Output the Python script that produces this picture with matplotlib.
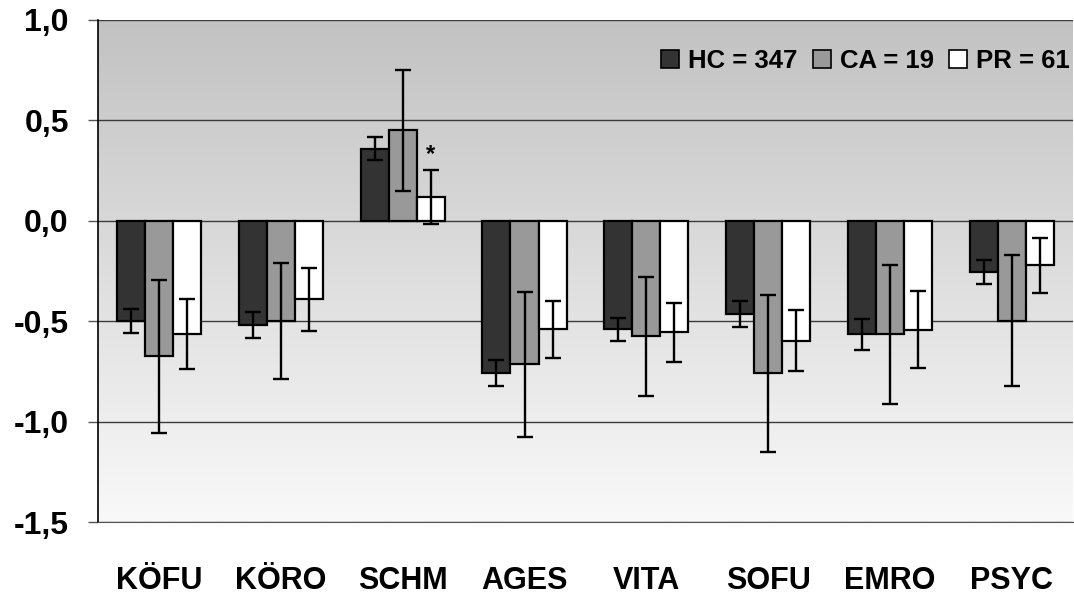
import numpy as np
import matplotlib
matplotlib.use('Agg')
import matplotlib.pyplot as plt
from matplotlib.patches import Patch

plt.rcParams['font.family'] = ['Liberation Sans', 'DejaVu Sans']
plt.rcParams['font.weight'] = 'bold'

cats = ['KÖFU', 'KÖRO', 'SCHM', 'AGES', 'VITA', 'SOFU', 'EMRO', 'PSYC']
hc = [-0.50, -0.52, 0.36, -0.76, -0.54, -0.465, -0.565, -0.255]
hc_err = [0.06, 0.065, 0.055, 0.065, 0.058, 0.065, 0.076, 0.06]
ca = [-0.675, -0.50, 0.45, -0.715, -0.575, -0.76, -0.565, -0.497]
ca_err = [0.38, 0.29, 0.30, 0.36, 0.295, 0.39, 0.345, 0.325]
pr = [-0.565, -0.39, 0.118, -0.54, -0.555, -0.597, -0.542, -0.222]
pr_err = [0.175, 0.157, 0.135, 0.143, 0.147, 0.153, 0.19, 0.138]
labels = ['HC = 347', 'CA = 19', 'PR = 61']
cols = ['#333333', '#999999', '#ffffff']
yticks = [-1.5, -1.0, -0.5, 0.0, 0.5, 1.0]
ytick_lbl = ['-1,5', '-1,0', '-0,5', '0,0', '0,5', '1,0']

fig = plt.figure(figsize=(10.74, 5.97), dpi=100)
ax = fig.add_axes([0.0912, 0.1256, 0.9078, 0.8409])

# grey gradient background, darker at top
grad = np.linspace(0, 1, 256).reshape(-1, 1)
ax.imshow(grad, cmap=matplotlib.colors.LinearSegmentedColormap.from_list('g', ['#c2c2c2', '#f9f9f9']),
          extent=[-0.5, 7.5, -1.5, 1.0], origin='upper', aspect='auto', zorder=0)

x = np.arange(len(cats))
w = 0.23
for k, (vals, errs) in enumerate([(hc, hc_err), (ca, ca_err), (pr, pr_err)]):
    xs = x + (k - 1) * w
    ax.bar(xs, vals, width=w, color=cols[k], edgecolor='black', linewidth=1.6, zorder=3)
    ax.errorbar(xs, vals, yerr=errs, fmt='none', ecolor='black', elinewidth=1.7,
                capsize=6, capthick=1.7, zorder=4)

ax.text(x[2] + w, pr[2] + pr_err[2] + 0.02, '*', ha='center', va='bottom', fontsize=17, zorder=5)

ax.set_xlim(-0.5, 7.5)
ax.set_ylim(-1.5, 1.0)
ax.set_yticks(yticks)
ax.set_yticklabels(ytick_lbl, fontsize=23, fontweight='bold')
ax.set_xticks(x)
ax.set_xticklabels(cats, fontsize=22, fontweight='bold')
ax.tick_params(axis='x', length=0, pad=32)
ax.tick_params(axis='y', length=7, width=1, color='#555555', pad=14)
ax.yaxis.grid(True, color='#3a3a3a', linewidth=1.0, zorder=1)
ax.set_axisbelow(True)
for s in ['top', 'right']:
    ax.spines[s].set_visible(False)
ax.spines['bottom'].set_color('#555555')
ax.spines['left'].set_linewidth(1.2)

handles = [Patch(facecolor=c, edgecolor='black', linewidth=1.2) for c in cols]
ax.legend(handles, labels, ncol=3, frameon=False, loc='center right',
          bbox_to_anchor=(0.997, 0.918), handlelength=0.7, handleheight=0.7,
          handletextpad=0.35, columnspacing=0.6, borderpad=0, borderaxespad=0,
          prop={'weight': 'bold', 'size': 18.5})

fig.savefig('out.png', dpi=100)
